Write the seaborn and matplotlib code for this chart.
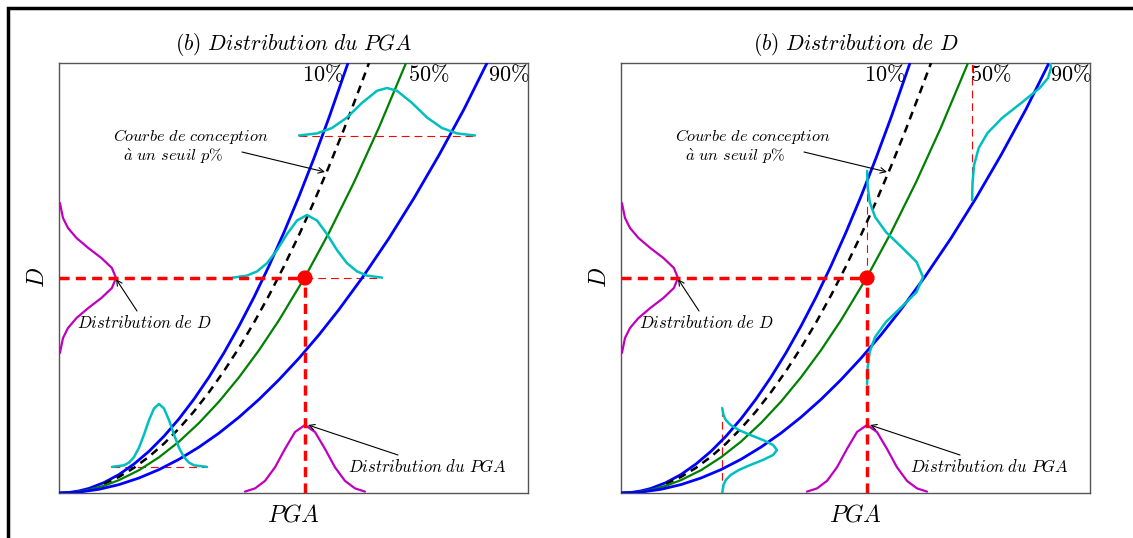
import seaborn as sns
import matplotlib.pyplot as plt
from matplotlib.patches import Rectangle

# design curves D(PGA) at 10 / 50 / 90 % and the p% curve (plot-box units)
pga_10 = [0, 10, 20, 30, 45, 60, 75, 90, 105, 120, 135, 150, 165, 180, 195, 210, 225, 240, 255, 270, 289]
d_10 = [0, 0.5, 2.1, 4.6, 10.4, 18.5, 29.0, 41.7, 56.8, 74.2, 93.9, 115.9, 140.2, 166.9, 195.8, 227.1, 260.7,
        296.6, 334.9, 375.4, 430]
pga_p = [45, 60, 75, 90, 105, 120, 135, 150, 165, 180, 195, 210, 225, 240, 255, 270, 285, 300, 310]
d_p = [9.1, 16.1, 25.2, 36.3, 49.4, 64.5, 81.6, 100.8, 122.0, 145.2, 170.4, 197.6, 226.8, 258.0, 291.3,
       326.6, 363.9, 403.2, 430]
pga_50 = [0, 15, 30, 45, 60, 80, 100, 120, 140, 160, 180, 200, 220, 246, 270, 295, 320, 347]
d_50 = [0, 0.8, 3.2, 7.2, 12.9, 22.8, 35.7, 51.4, 70.0, 91.4, 115.7, 142.8, 172.8, 216, 260.3, 310.7, 365.6, 430]
pga_90 = [0, 20, 40, 60, 80, 100, 120, 140, 160, 180, 200, 220, 240, 260, 280, 304, 330, 355, 380, 405, 428]
d_90 = [0, 0.9, 3.7, 8.4, 15.0, 23.4, 33.7, 45.9, 59.9, 75.8, 93.6, 113.3, 134.8, 158.2, 183.5, 216.3, 254.8,
        294.9, 337.9, 383.8, 430]

# design point
pga_star = 246
d_star = 215

# marginal distributions (magenta)
distD_d = [140, 155, 165, 175, 185, 195, 205, 215, 225, 235, 245, 255, 265, 275, 290]
distD_h = [0.9, 4.0, 9.0, 17.5, 29.3, 42.4, 52.9, 57, 52.9, 42.4, 29.3, 17.5, 9.0, 4.0, 0.9]
distPGA_x = [186, 196, 206, 216, 226, 236, 246, 256, 266, 276, 286, 296, 306]
distPGA_h = [1.4, 4.6, 12.1, 25.7, 44.1, 61.0, 68, 61.0, 44.1, 25.7, 12.1, 4.6, 1.4]

# left panel: PGA distributions at fixed D (cyan), baseline D, PGA, height
pgaDist_base = [357, 215, 26]
pgaDist_x = [
    [240, 258, 273, 288, 303, 318, 328, 338, 353, 368, 383, 398, 416],
    [174, 188, 198, 208, 218, 228, 238, 248, 258, 268, 278, 288, 298, 308, 323],
    [53, 65, 70, 75, 80, 85, 90, 95, 100, 105, 110, 115, 120, 125, 130, 135, 148],
]
pgaDist_h = [
    [0.5, 2.6, 8.0, 18.5, 33.1, 45.2, 48, 45.2, 33.1, 18.5, 8.0, 2.6, 0.5],
    [0.4, 2.4, 6.6, 14.8, 27.9, 43.9, 57.5, 63, 57.5, 43.9, 27.9, 14.8, 6.6, 2.4, 0.4],
    [0.1, 1.7, 4.4, 9.9, 19.3, 32.4, 46.9, 58.5, 63, 58.5, 46.9, 32.4, 19.3, 9.9, 4.4, 1.7, 0.1],
]
pgaDist_guide = [(240, 416), (246, 323), (53, 148)]

# right panel: D distributions at fixed PGA (cyan), baseline PGA, D, height
dDist_base = [101, 246, 351]
dDist_y = [
    [0, 8, 13, 18, 23, 28, 33, 38, 43, 48, 53, 58, 63, 68, 73, 78, 85],
    [109, 126, 141, 156, 171, 186, 201, 216, 231, 246, 261, 276, 291, 306, 322],
    [293, 310, 328, 345, 360, 375, 390, 405, 415, 425, 430],
]
dDist_h = [
    [0.2, 1.5, 3.8, 8.6, 16.8, 28.3, 40.9, 51.1, 55, 51.1, 40.9, 28.3, 16.8, 8.6, 3.8, 1.5, 0.2],
    [0.1, 0.7, 2.7, 8.1, 18.9, 34.5, 49.6, 56, 49.6, 34.5, 18.9, 8.1, 2.7, 0.7, 0.1],
    [0.1, 0.5, 2.1, 6.7, 15.5, 30.1, 49.2, 67.7, 76.0, 79, 78.2],
]
dDist_guide = [(0, 85), (215, 322), (293, 430)]

titles = [r'$(b)\ Distribution\ du\ PGA$', r'$(b)\ Distribution\ de\ D$']

BLUE, GREEN, CYAN, MAG = '#0000ff', '#008000', '#00bfbf', '#bf00bf'

sns.set_style('white')
plt.rcParams['font.family'] = ['DejaVu Serif']
plt.rcParams['mathtext.fontset'] = 'cm'
plt.rcParams['text.color'] = 'black'
plt.rcParams['axes.titlecolor'] = 'black'

W, H = 1133, 538
fig = plt.figure(figsize=(W / 100, H / 100), dpi=100)
axes = [fig.add_axes([x0 / W, 45 / H, 469 / W, 430 / H]) for x0 in (59, 621)]


def line(ax, x, y, **kw):
    sns.lineplot(x=x, y=y, ax=ax, sort=False, estimator=None, **kw)


thin_red = dict(color='red', lw=0.8, linestyle=(0, (7, 4.5)))
thick_red = dict(color='red', lw=2.5, linestyle=(0, (2.9, 1.8)))

for i, ax in enumerate(axes):
    ax.set_xlim(0, 469)
    ax.set_ylim(0, 430)
    ax.set_xticks([])
    ax.set_yticks([])
    for s in ax.spines.values():
        s.set_color('#555555')
        s.set_linewidth(1.0)

    line(ax, pga_10, d_10, color=BLUE, lw=2.0, zorder=3)
    line(ax, pga_p, d_p, color='black', lw=1.8, linestyle=(0, (3.2, 2.4)), zorder=3)
    line(ax, pga_50, d_50, color=GREEN, lw=1.6, zorder=3)
    line(ax, pga_90, d_90, color=BLUE, lw=2.0, zorder=3)

    # guides through the design point
    line(ax, [0, pga_star], [d_star, d_star], zorder=4, **thick_red)
    line(ax, [pga_star, pga_star], [0, d_star], zorder=4, **thick_red)

    if i == 0:
        for base, xs, hs, (g0, g1) in zip(pgaDist_base, pgaDist_x, pgaDist_h, pgaDist_guide):
            line(ax, [g0, g1], [base, base], zorder=2, **thin_red)
            line(ax, xs, [base + h for h in hs], color=CYAN, lw=1.8, zorder=3)
    else:
        for base, ys, hs, (g0, g1) in zip(dDist_base, dDist_y, dDist_h, dDist_guide):
            line(ax, [base, base], [g0, g1], zorder=2, **thin_red)
            line(ax, [base + h for h in hs], ys, color=CYAN, lw=1.8, zorder=3)

    line(ax, distD_h, distD_d, color=MAG, lw=1.6, zorder=3)
    line(ax, distPGA_x, distPGA_h, color=MAG, lw=1.6, zorder=3)
    sns.scatterplot(x=[pga_star], y=[d_star], ax=ax, color='red', s=120, edgecolor='none', zorder=6)

    ax.text(284, 418, r'$10\%$', ha='right', va='center', fontsize=16)
    ax.text(349, 418, r'$50\%$', ha='left', va='center', fontsize=16)
    ax.text(429, 418, r'$90\%$', ha='left', va='center', fontsize=16)

    ax.text(54, 356, r'$Courbe\ de\ conception$', ha='left', va='center', fontsize=11.8)
    ax.text(64, 337, r'$\grave{a}\ un\ seuil\ p\%$', ha='left', va='center', fontsize=11.8)
    ax.text(18, 170, r'$Distribution\ de\ D$', ha='left', va='center', fontsize=12)
    ax.text(289, 25, r'$Distribution\ du\ PGA$', ha='left', va='center', fontsize=12)
    arrow = dict(arrowstyle='->', lw=0.8, color='black', shrinkA=0, shrinkB=0)
    ax.annotate('', xy=(266, 321), xytext=(183, 341), arrowprops=arrow)
    ax.annotate('', xy=(57, 214), xytext=(78, 182), arrowprops=arrow)
    ax.annotate('', xy=(249, 68), xytext=(339, 38), arrowprops=arrow)

    ax.set_title(titles[i], fontsize=15.5, pad=9)
    # axis names placed as plain texts just outside the box
    ax.text(0.5, -22 / 430, r'$PGA$', transform=ax.transAxes, ha='center', va='center', fontsize=17)
    ax.text(-21 / 469, 0.5, r'$D$', transform=ax.transAxes, ha='center', va='center',
            rotation=90, fontsize=17)

fig.add_artist(Rectangle((8 / W, -0.1), 1.2, (H - 8) / H + 0.1, transform=fig.transFigure,
                         fill=False, lw=2.5, edgecolor='black'))

plt.savefig('out.png', dpi=100)
plt.close()
